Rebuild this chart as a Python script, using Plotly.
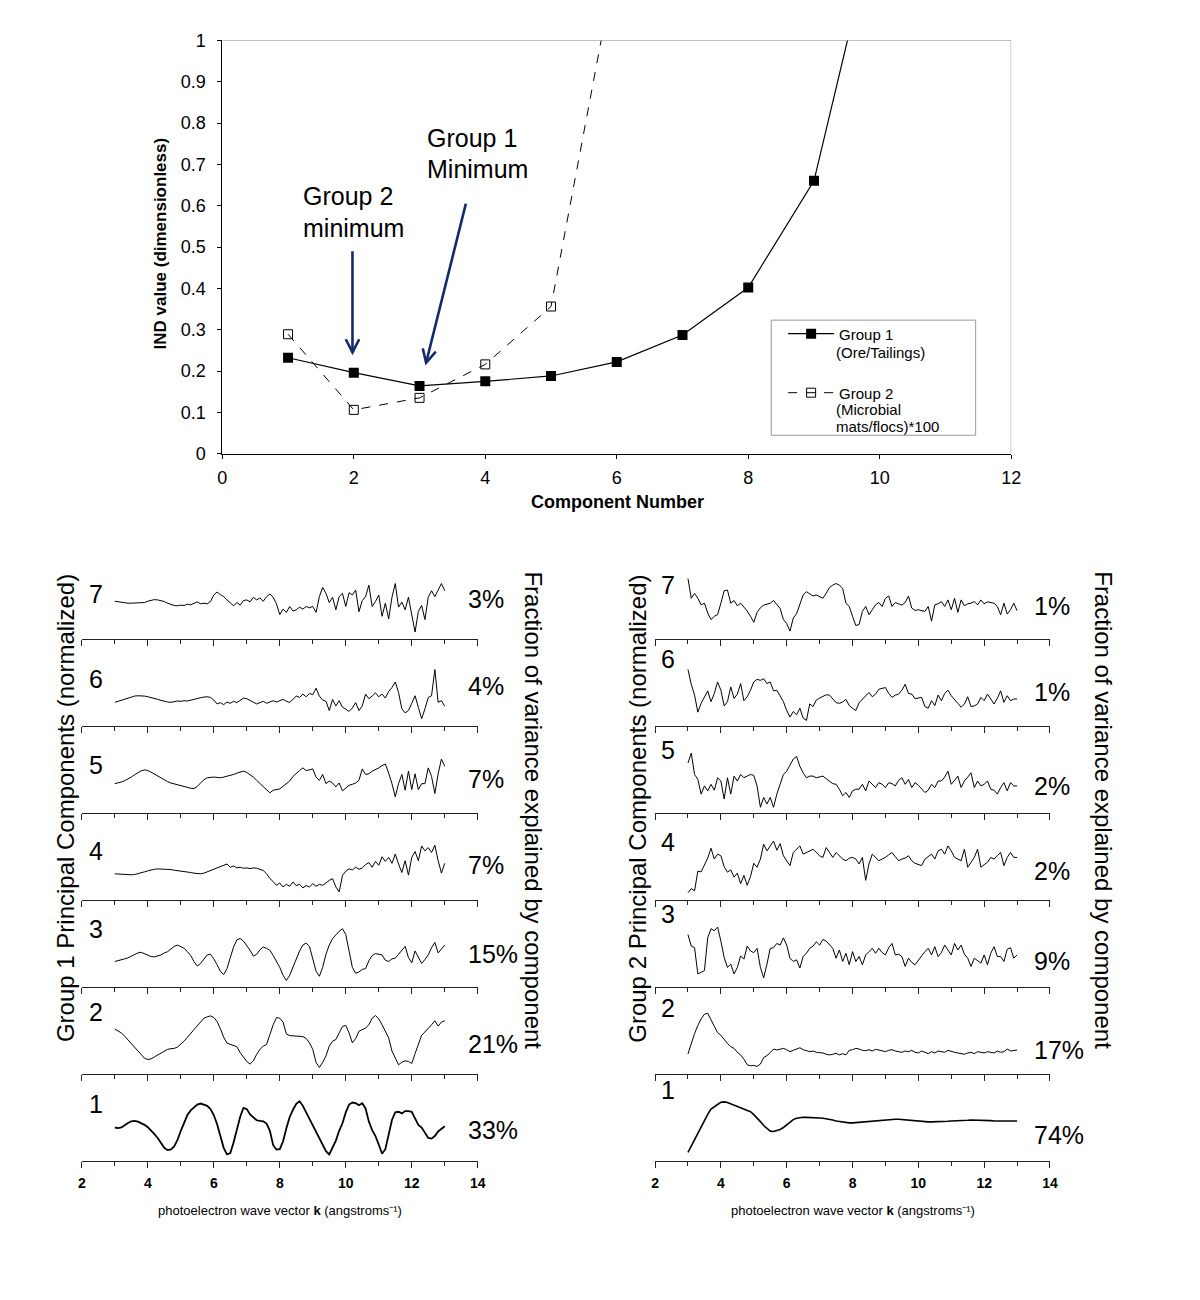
import math
import plotly.graph_objects as go

# The page body has an 8px margin, so the figure is drawn 8px in from each edge.
# The figure is kept a bit shorter than the window so that no scrollbar appears.
OFF = 8
W, H = 1200 - 2 * OFF, 1260
FONT = "Liberation Sans, Arial, Helvetica, sans-serif"
NAVY = "#15296b"

# ---------------- top chart data (IND values) ----------------
components_g1 = [1, 2, 3, 4, 5, 6, 7, 8, 9, 10]
ind_group1 = [0.232, 0.196, 0.164, 0.175, 0.188, 0.222, 0.287, 0.402, 0.660, 1.327]
components_g2 = [1, 2, 3, 4, 5, 6]
ind_group2 = [0.289, 0.106, 0.135, 0.216, 0.356, 1.20]

# annotation arrows (data coordinates: tail -> tip)
ARROW_G2 = dict(tail=(1.98, 0.49), tip=(1.98, 0.245))
ARROW_G1 = dict(tail=(3.705, 0.605), tip=(3.10, 0.22))

# ---------------- principal component spectra ----------------
# photoelectron wave vector grid (angstroms^-1), 3.0 ... 13.0
K = [round(3 + i * 0.1, 1) for i in range(101)]

# Group 1 components (normalized amplitude, arbitrary units)
G1_PC1 = [102,100,102,110,116,121,122,120,116,110,
          103,94,82,70,54,40,33,35,44,64,
          92,118,140,154,164,172,175,172,168,158,
          140,112,76,40,20,24,56,100,135,162,
          158,142,132,124,122,121,114,92,48,35,
          36,60,100,134,156,174,182,168,148,128,
          110,90,68,50,30,20,40,62,92,115,
          148,172,178,176,170,176,160,120,94,76,
          50,22,36,84,125,148,150,145,152,152,
          150,130,110,102,86,70,68,76,90,98,
          106]
G1_PC2 = [137,132,125,115,104,92,80,68,58,48,
          44,46,52,58,64,70,75,77,78,82,
          90,100,112,124,136,148,160,170,174,177,
          172,160,138,112,94,90,88,83,65,50,
          38,30,40,60,75,85,90,120,150,172,
          170,158,122,117,116,116,115,114,108,95,
          75,35,20,35,55,85,100,105,125,145,
          148,125,95,108,130,134,140,150,170,178,
          168,150,128,110,70,50,28,36,40,38,
          32,62,90,118,128,138,150,162,146,158,
          162]
G1_PC3 = [78,80,83,86,89,94,100,104,106,102,
          96,93,92,94,98,104,108,116,124,128,
          124,118,108,96,78,64,72,86,98,100,
          86,68,48,38,56,90,122,144,148,140,
          126,112,94,100,114,122,118,112,96,80,
          60,36,20,36,60,86,110,128,134,124,
          82,48,33,60,100,128,148,160,170,178,
          160,110,60,42,46,54,56,80,96,102,
          100,98,82,78,86,88,100,112,124,90,
          74,110,92,72,84,98,120,136,104,116,
          128]
G1_PC4 = [80,79,78,77,77,77,78,80,83,86,
          89,92,94,95,95,95,94,93,91,90,
          89,88,86,84,82,80,80,82,86,90,
          95,100,104,106,110,100,104,98,100,97,
          98,96,98,97,94,90,80,66,56,45,
          52,40,48,42,55,44,48,37,44,40,
          50,42,48,45,52,60,65,40,25,75,
          88,95,92,100,94,98,108,114,100,118,
          106,132,118,130,112,140,110,84,120,76,
          130,148,120,165,150,160,145,167,120,82,
          112]
G1_PC5 = [90,92,95,99,104,110,117,124,129,132,
          130,125,119,113,107,101,96,92,89,86,
          83,80,78,76,75,82,92,102,108,110,
          110,109,108,110,112,115,118,122,126,128,
          124,118,110,100,90,80,70,62,70,72,
          74,82,90,98,112,122,130,138,130,132,
          135,110,100,118,90,98,92,80,92,68,
          78,85,88,92,100,135,118,120,128,132,
          138,145,150,122,90,50,90,118,70,128,
          72,120,72,90,90,138,112,60,120,165,
          143]
G1_PC6 = [73,76,80,84,87,90,92,93,93,92,
          90,88,85,82,79,76,74,73,75,77,
          76,78,77,80,83,85,87,89,90,88,
          80,68,72,66,74,70,76,72,78,86,
          84,78,72,68,72,76,70,75,78,74,
          78,82,76,73,82,92,88,98,90,100,
          96,116,92,80,76,48,82,62,78,58,
          52,45,56,72,48,62,98,84,92,102,
          90,98,86,106,118,135,103,53,41,48,
          70,93,58,23,53,88,93,173,73,78,
          61]
G1_PC7 = [116,114,112,110,110,110,110,110,111,112,
          116,119,121,120,118,115,110,106,103,102,
          104,103,107,105,110,114,108,110,108,115,
          135,144,136,130,120,112,102,112,104,118,
          120,114,128,120,126,116,130,138,128,108,
          75,92,82,100,86,90,98,92,100,96,
          100,82,130,158,140,112,128,90,130,140,
          100,142,135,150,84,118,130,165,100,115,
          135,70,110,62,128,170,98,113,90,128,
          72,22,85,103,60,128,148,130,150,170,
          148]

# Group 2 components
G2_PC1 = [26,45,65,86,106,124,142,158,166,172,
          179,180,178,174,170,167,164,160,156,150,
          141,132,120,108,98,91,90,92,96,102,
          111,119,126,130,132,133,133,133,132,132,
          131,130,129,127,125,122,120,118,117,116,
          116,117,118,119,120,121,122,123,124,125,
          125,126,126,127,127,126,124,123,122,121,
          120,120,119,119,119,119,120,120,121,121,
          122,122,123,123,124,124,125,125,124,124,
          123,123,123,122,122,122,122,122,122,122,
          122]
G2_PC2 = [61,93,123,148,168,182,185,165,146,126,
          118,104,93,83,78,66,58,45,28,25,
          26,23,30,50,56,65,76,73,76,78,
          74,68,72,76,80,74,72,68,70,66,
          65,64,60,58,60,63,58,62,58,72,
          74,78,76,72,71,74,70,75,73,70,
          68,72,74,70,68,66,70,68,72,66,
          64,70,66,62,68,64,70,68,66,72,
          68,66,64,62,60,64,66,62,68,66,
          64,68,66,64,70,66,68,76,70,72,
          73]
G2_PC3 = [160,125,120,40,45,50,150,178,172,183,
          140,90,60,70,40,60,95,85,125,110,
          105,118,60,28,70,118,120,133,128,150,
          128,88,78,83,58,93,103,118,125,138,
          128,145,140,128,118,88,113,78,103,68,
          108,78,93,68,98,108,118,103,118,105,
          98,120,133,98,100,93,63,88,75,68,
          83,95,108,118,98,123,93,105,128,113,
          98,133,113,128,100,88,63,88,80,73,
          98,68,103,123,93,93,78,115,120,88,
          98]
G2_PC4 = [22,35,28,88,86,105,128,158,125,140,
          135,102,85,92,70,82,50,75,45,72,
          112,100,125,170,150,165,180,152,172,135,
          120,105,145,155,165,140,145,150,155,145,
          135,130,160,145,130,145,135,125,120,128,
          130,125,110,130,60,110,140,130,120,125,
          130,138,145,132,120,125,128,135,120,112,
          108,105,125,132,140,125,150,155,140,165,
          150,130,125,120,155,100,115,130,155,100,
          108,115,130,125,135,145,105,130,145,130,
          130]
G2_PC5 = [153,183,118,103,58,83,68,88,70,108,
          98,43,108,58,113,98,118,108,113,118,
          115,83,18,48,28,48,18,58,88,118,
          128,148,165,173,143,123,108,113,113,108,
          110,113,105,98,90,88,73,53,63,48,
          68,73,73,88,68,98,88,78,93,88,
          78,93,90,83,100,108,88,103,78,93,
          85,75,63,70,88,78,98,98,110,128,
          88,100,113,78,98,110,123,78,98,83,
          88,98,73,70,58,78,93,68,93,83,
          83]
G2_PC6 = [173,128,95,43,70,88,108,75,100,135,
          110,62,75,120,85,98,130,78,90,110,
          135,143,140,145,130,135,108,110,90,75,
          48,28,45,35,55,25,18,68,60,80,
          86,92,96,95,82,72,70,74,82,63,
          55,48,72,82,92,103,90,98,113,115,
          118,100,88,95,98,110,128,100,98,84,
          86,88,60,55,78,63,95,78,100,110,
          93,83,70,58,68,90,60,62,68,88,
          78,98,82,68,85,108,73,93,78,83,
          83]
G2_PC7 = [185,125,140,125,105,110,80,60,70,75,
          110,148,150,110,118,102,110,98,86,70,
          52,82,96,104,108,110,118,106,94,60,
          48,25,65,78,110,135,145,138,132,135,
          130,125,140,158,165,170,165,155,110,100,
          70,42,45,85,100,75,90,105,112,100,
          125,132,100,112,108,104,112,132,95,88,
          90,88,85,100,55,105,108,115,100,120,
          90,125,82,120,102,108,110,115,105,120,
          108,114,112,110,100,75,110,77,90,110,
          87]

G1_SERIES = [G1_PC1, G1_PC2, G1_PC3, G1_PC4, G1_PC5, G1_PC6, G1_PC7]
G2_SERIES = [G2_PC1, G2_PC2, G2_PC3, G2_PC4, G2_PC5, G2_PC6, G2_PC7]
COMPONENT_LABELS = ["1", "2", "3", "4", "5", "6", "7"]
G1_VARIANCE = ["33%", "21%", "15%", "7%", "7%", "4%", "3%"]
G2_VARIANCE = ["74%", "17%", "9%", "2%", "2%", "1%", "1%"]

# ---------------- layout helpers (page pixel -> paper) ----------------
def xp(px):
    return (px - OFF) / W

def yp(py):
    return 1 - (py - OFF) / H

TOP_X0, TOP_X1 = 220.0, 1019.0      # page px of x=0 and x=12
TOP_Y0, TOP_Y1 = 450.7, 30.7        # page px of y=0 and y=1
TOP_XR, TOP_YR = (0, 12), (0, 1)

fig = go.Figure()
layout = {}

# ---------- top chart ----------
fig.add_trace(go.Scatter(
    x=components_g1, y=ind_group1, mode="lines+markers",
    name="Group 1", legend="legend",
    line=dict(color="black", width=1.2),
    marker=dict(symbol="square", size=10, color="black"),
    xaxis="x", yaxis="y", showlegend=True))
fig.add_trace(go.Scatter(
    x=components_g2, y=ind_group2, mode="lines+markers",
    name="Group 2", legend="legend2",
    line=dict(color="black", width=1, dash="dash"),
    marker=dict(symbol="square-open", size=9, color="black", line=dict(width=1)),
    xaxis="x", yaxis="y", showlegend=True))

layout["xaxis"] = dict(domain=[xp(TOP_X0), xp(TOP_X1)], range=list(TOP_XR), dtick=2, tick0=0,
                       ticks="outside", ticklen=4, tickcolor="black",
                       showline=True, linecolor="black", linewidth=1,
                       showgrid=False, zeroline=False, anchor="y",
                       tickfont=dict(family=FONT, size=18, color="black"),
                       ticklabelstandoff=4)
layout["yaxis"] = dict(domain=[yp(TOP_Y0), yp(TOP_Y1)], range=list(TOP_YR), dtick=0.1, tick0=0,
                       ticks="outside", ticklen=4, tickcolor="black",
                       showline=True, linecolor="black", linewidth=1,
                       showgrid=False, zeroline=False, anchor="x",
                       tickfont=dict(family=FONT, size=18, color="black"),
                       ticklabelstandoff=8)

# plot-area frame (grey top / right edges) and legend box
shapes = [
    dict(type="line", xref="x", yref="y", x0=0, x1=12, y0=1, y1=1,
         line=dict(color="#9a9a9a", width=1)),
    dict(type="line", xref="x", yref="y", x0=12, x1=12, y0=0, y1=1,
         line=dict(color="#9a9a9a", width=1)),
    dict(type="rect", xref="paper", yref="paper", x0=xp(776), x1=xp(983),
         y0=yp(432), y1=yp(315), line=dict(color="#9a9a9a", width=1),
         fillcolor="white", layer="below"),
]

# arrows: shaft + open V head, head built in pixel space so angles are true
sx = (TOP_X1 - TOP_X0) / (TOP_XR[1] - TOP_XR[0])   # px per x unit
sy = (TOP_Y0 - TOP_Y1) / (TOP_YR[1] - TOP_YR[0])   # px per y unit (upwards)
HEAD_LEN, HEAD_ANG = 15, math.radians(27)
for arr in (ARROW_G2, ARROW_G1):
    (tx, ty), (hx, hy) = arr["tail"], arr["tip"]
    dx, dy = (hx - tx) * sx, (hy - ty) * sy          # pixel direction (y up)
    ang = math.atan2(dy, dx)
    pts = []
    for s in (1, -1):
        a = ang + math.pi + s * HEAD_ANG
        pts.append((hx + HEAD_LEN * math.cos(a) / sx, hy + HEAD_LEN * math.sin(a) / sy))
    shapes.append(dict(type="line", xref="x", yref="y", x0=tx, y0=ty, x1=hx, y1=hy,
                       line=dict(color=NAVY, width=2.6)))
    shapes.append(dict(type="path", xref="x", yref="y",
                       path=f"M{pts[0][0]},{pts[0][1]} L{hx},{hy} L{pts[1][0]},{pts[1][1]}",
                       line=dict(color=NAVY, width=2.6)))

annotations = []
for txt, px, py in [("Group 1", 425, 130), ("Minimum", 425, 161),
                    ("Group 2", 300, 189), ("minimum", 300, 221)]:
    annotations.append(dict(text=txt, x=xp(px), y=yp(py), xref="paper", yref="paper",
                            xanchor="left", yanchor="middle", showarrow=False,
                            font=dict(family=FONT, size=25, color="black")))
# continuation lines of the legend entries (tight line spacing as in the original)
LEG_FONT = 15
for txt, py in [("(Ore/Tailings)", 348), ("(Microbial", 406), ("mats/flocs)*100", 423)]:
    annotations.append(dict(text=txt, x=xp(840), y=yp(py), xref="paper", yref="paper",
                            xanchor="left", yanchor="middle", showarrow=False,
                            font=dict(family=FONT, size=LEG_FONT, color="black")))
annotations += [
    dict(text="IND value (dimensionless)", x=xp(157), y=yp(237),
         xref="paper", yref="paper", textangle=-90, showarrow=False,
         xanchor="center", yanchor="middle",
         font=dict(family=FONT, size=17, color="black", weight="bold")),
    dict(text="Component Number", x=xp(620.7), y=yp(500),
         xref="paper", yref="paper", showarrow=False,
         xanchor="center", yanchor="middle",
         font=dict(family=FONT, size=18, color="black", weight="bold")),
]

# ---------- bottom panels ----------
ROW_AXIS_Y = [1169.4, 1081.0, 992.7, 904.3, 816.0, 727.7, 639.3]  # page px of each row's baseline (rows 1..7)
ROW_H = 88.35
PANELS = [
    dict(series=G1_SERIES, variance=G1_VARIANCE, x0=77.7, x1=478.7,
         label_x=91.7, pct_x=467,
         label_y=[1111.7, 1018.3, 933.3, 854.0, 766.7, 680.0, 593.3],
         pct_y=[1138.3, 1050.3, 959.0, 868.3, 781.0, 686.7, 598.0],
         title="Group 1 Principal Components (normalized)", title_x=60.5,
         rtitle_x=535.5, widths=[1.8, 1, 1, 1, 1, 1, 1]),
    dict(series=G2_SERIES, variance=G2_VARIANCE, x0=658.3, x1=1058.3,
         label_x=671.6, pct_x=1040,
         label_y=[1097.3, 1014.0, 918.3, 845.0, 752.3, 659.0, 584.0],
         pct_y=[1143.3, 1056.7, 966.7, 875.0, 788.3, 693.3, 605.0],
         title="Group 2 Principal Components (normalized)", title_x=640.5,
         rtitle_x=1113, widths=[1.6, 1, 1, 1, 1, 1, 1]),
]

axis_idx = 2
for panel in PANELS:
    for r in range(7):
        xa = f"xaxis{axis_idx}"
        ya = f"yaxis{axis_idx}"
        base = ROW_AXIS_Y[r]
        layout[xa] = dict(domain=[xp(panel["x0"]), xp(panel["x1"])], range=[2, 14],
                          dtick=2, tick0=2, ticks="outside", ticklen=6,
                          tickcolor="#222", tickwidth=1.3,
                          minor=dict(dtick=1, tick0=2, ticks="outside", ticklen=4,
                                     tickcolor="#222", tickwidth=1.3),
                          showline=True, linecolor="#222", linewidth=1.3,
                          showgrid=False, zeroline=False,
                          anchor=f"y{axis_idx}",
                          showticklabels=(r == 0),
                          tickfont=dict(family=FONT, size=14, color="black", weight="bold"),
                          ticklabelstandoff=3)
        layout[ya] = dict(domain=[yp(base), yp(base - ROW_H)], range=[0, 265],
                          visible=False, anchor=f"x{axis_idx}")
        fig.add_trace(go.Scatter(x=K, y=panel["series"][r], mode="lines",
                                 line=dict(color="black", width=panel["widths"][r]),
                                 xaxis=f"x{axis_idx}", yaxis=f"y{axis_idx}",
                                 showlegend=False, hoverinfo="skip"))
        annotations.append(dict(text=COMPONENT_LABELS[r], x=xp(panel["label_x"]),
                                y=yp(panel["label_y"][r]), xref="paper", yref="paper",
                                showarrow=False, xanchor="center", yanchor="middle",
                                font=dict(family=FONT, size=25, color="black")))
        annotations.append(dict(text=panel["variance"][r], x=xp(panel["pct_x"]),
                                y=yp(panel["pct_y"][r]), xref="paper", yref="paper",
                                showarrow=False, xanchor="left", yanchor="middle",
                                font=dict(family=FONT, size=25, color="black")))
        axis_idx += 1
    annotations.append(dict(text=panel["title"], x=xp(panel["title_x"]), y=yp(811),
                            xref="paper", yref="paper", textangle=-90, showarrow=False,
                            xanchor="center", yanchor="middle",
                            font=dict(family=FONT, size=24, color="black")))
    annotations.append(dict(text="Fraction of variance explained by component",
                            x=xp(panel["rtitle_x"]), y=yp(813),
                            xref="paper", yref="paper", textangle=90, showarrow=False,
                            xanchor="center", yanchor="middle",
                            font=dict(family=FONT, size=24, color="black")))
    annotations.append(dict(text="photoelectron wave vector <b>k</b> (angstroms\u207b\u00b9)",
                            x=xp((panel["x0"] + panel["x1"]) / 2), y=yp(1220),
                            xref="paper", yref="paper", showarrow=False,
                            xanchor="center", yanchor="middle",
                            font=dict(family=FONT, size=13, color="black")))

LEGEND_STYLE = dict(xanchor="left", yanchor="middle", borderwidth=0,
                    bgcolor="rgba(0,0,0,0)",
                    font=dict(family=FONT, size=LEG_FONT, color="black"), itemwidth=46)
fig.update_layout(
    width=W, height=H,
    margin=dict(l=0, r=0, t=0, b=0),
    paper_bgcolor="white", plot_bgcolor="white",
    font=dict(family=FONT, color="black"),
    showlegend=True,
    legend=dict(x=xp(788), y=yp(329), **LEGEND_STYLE),
    legend2=dict(x=xp(788), y=yp(389), **LEGEND_STYLE),
    shapes=shapes,
    annotations=annotations,
    **layout,
)

fig.write_html("out.html")
